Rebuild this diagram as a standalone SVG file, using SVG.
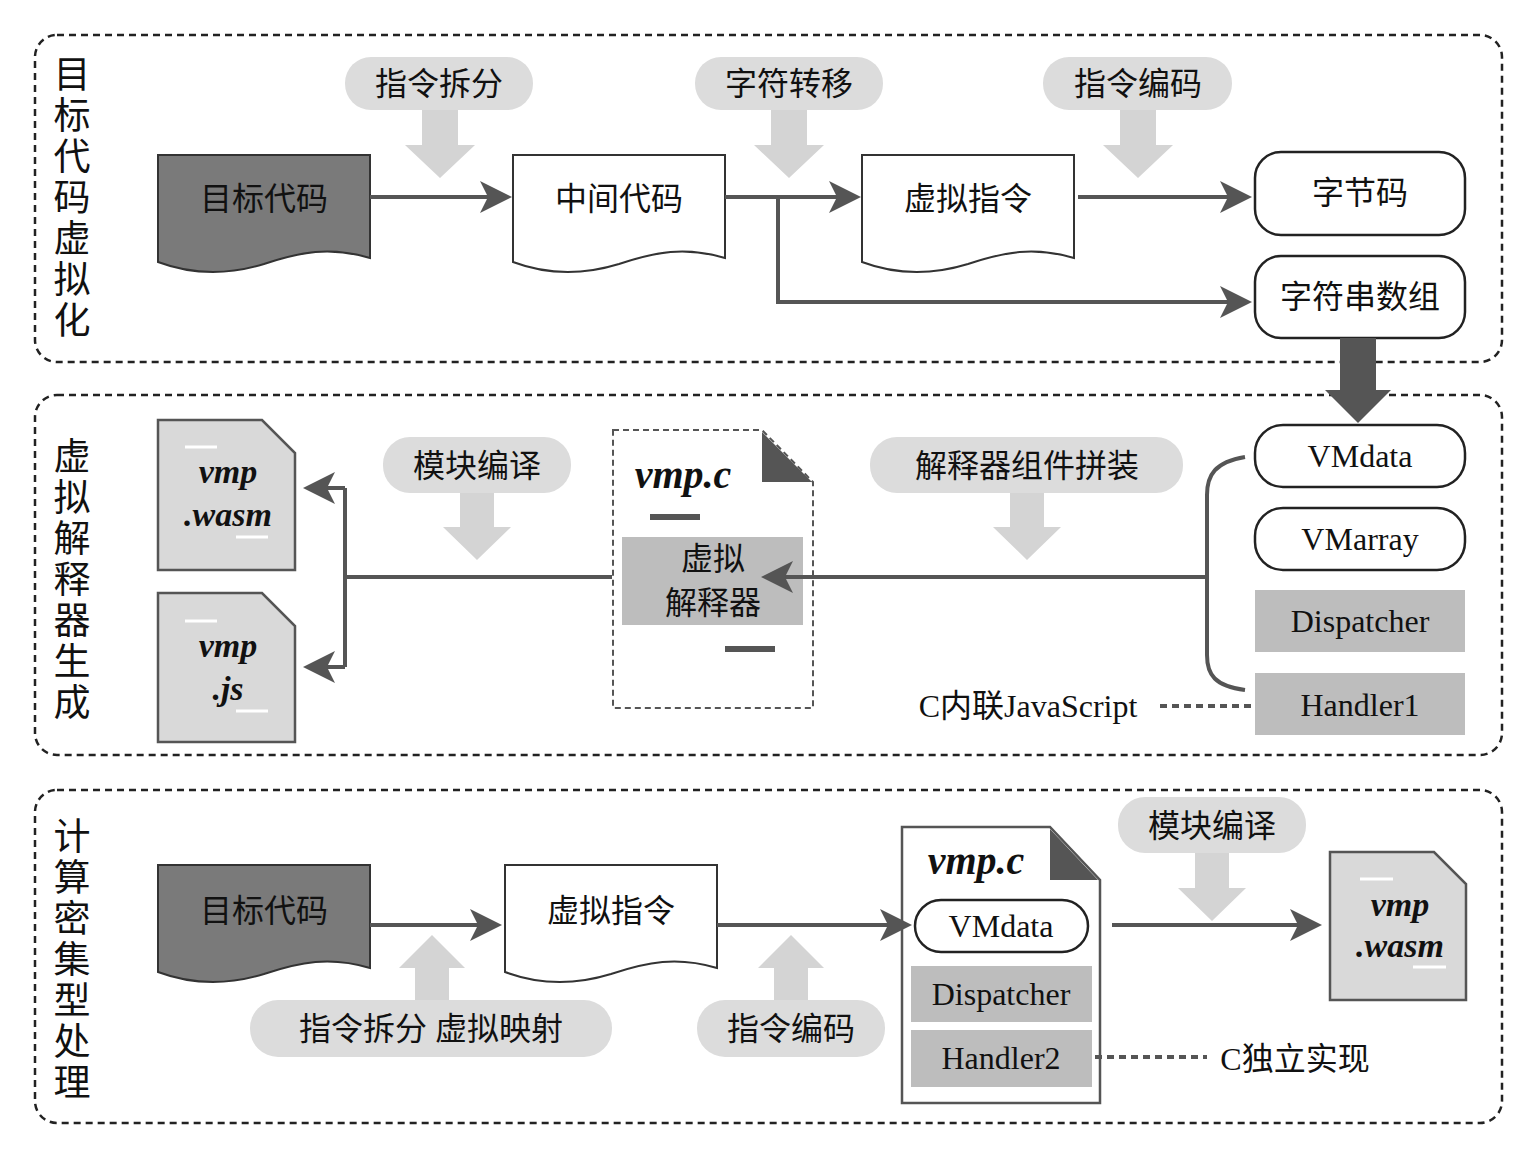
<svg xmlns="http://www.w3.org/2000/svg" width="1524" height="1152" viewBox="0 0 1524 1152">
<defs>
<style>
.panel{fill:none;stroke:#222;stroke-width:2.5;stroke-dasharray:7 5}
.t{font-family:"Liberation Serif","Noto Sans CJK SC",serif;font-size:32px;fill:#111;text-anchor:middle}
.title{font-family:"Liberation Serif","Noto Sans CJK SC",serif;font-size:37px;fill:#111;text-anchor:middle}
.bi{font-family:"Liberation Serif",serif;font-size:34px;font-weight:bold;font-style:italic;fill:#111;text-anchor:middle}
.bc{font-size:40px}
.pill{fill:#dcdcdc}
.big{fill:#d4d4d4}
.doc{fill:#fff;stroke:#333;stroke-width:2}
.dark{fill:#7a7a7a;stroke:#333;stroke-width:2}
.rr{fill:#fff;stroke:#222;stroke-width:2.5}
.blk{fill:#bdbdbd}
.file{fill:#d9d9d9;stroke:#555;stroke-width:2.5}
.wd{stroke:#fff;stroke-width:3}
.ln{fill:none;stroke:#555;stroke-width:4}
</style>
<marker id="ah" markerWidth="8" markerHeight="8" refX="7" refY="4" orient="auto" markerUnits="strokeWidth"><path d="M0,0 L8,4 L0,8 L2,4 Z" fill="#555"/></marker>
</defs>

<rect class="panel" x="35" y="35" width="1467" height="327" rx="22"/>
<rect class="panel" x="35" y="395" width="1467" height="360" rx="22"/>
<rect class="panel" x="35" y="790" width="1467" height="333" rx="22"/>

<g id="title1"><text class="title" x="72" y="88">目</text><text class="title" x="72" y="129">标</text><text class="title" x="72" y="170">代</text><text class="title" x="72" y="211">码</text><text class="title" x="72" y="252">虚</text><text class="title" x="72" y="293">拟</text><text class="title" x="72" y="334">化</text></g>
<g id="title2"><text class="title" x="72" y="470">虚</text><text class="title" x="72" y="511">拟</text><text class="title" x="72" y="552">解</text><text class="title" x="72" y="593">释</text><text class="title" x="72" y="634">器</text><text class="title" x="72" y="675">生</text><text class="title" x="72" y="716">成</text></g>
<g id="title3"><text class="title" x="72" y="850">计</text><text class="title" x="72" y="891">算</text><text class="title" x="72" y="932">密</text><text class="title" x="72" y="973">集</text><text class="title" x="72" y="1014">型</text><text class="title" x="72" y="1055">处</text><text class="title" x="72" y="1096">理</text></g>

<!-- panel 1 -->
<g id="p-split1"><rect class="pill" x="345" y="57" width="188" height="53" rx="26"/><text class="t" x="439" y="95">指令拆分</text><path class="big" d="M422,110 H458 V145 H475 L440,178 L405,145 H422 Z"/></g>
<g id="p-shift"><rect class="pill" x="695" y="57" width="188" height="53" rx="26"/><text class="t" x="789" y="95">字符转移</text><path class="big" d="M771,110 H807 V145 H824 L789,178 L754,145 H771 Z"/></g>
<g id="p-enc1"><rect class="pill" x="1043" y="57" width="189" height="53" rx="26"/><text class="t" x="1138" y="95">指令编码</text><path class="big" d="M1120,110 H1156 V145 H1173 L1138,178 L1103,145 H1120 Z"/></g>

<g id="n-target1"><path class="dark" d="M158,155 H370 V258 C330,246 300,252 264,264 C225,276 190,274 158,262 Z"/><text class="t" x="264" y="210">目标代码</text></g>
<g id="n-mid"><path class="doc" d="M513,155 H725 V258 C685,246 655,252 619,264 C580,276 545,274 513,262 Z"/><text class="t" x="619" y="210">中间代码</text></g>
<g id="n-vins1"><path class="doc" d="M862,155 H1074 V258 C1034,246 1004,252 968,264 C929,276 894,274 862,262 Z"/><text class="t" x="968" y="210">虚拟指令</text></g>
<g id="n-bytecode"><rect class="rr" x="1255" y="152" width="210" height="83" rx="26"/><text class="t" x="1360" y="204">字节码</text></g>
<g id="n-strarr"><rect class="rr" x="1255" y="256" width="210" height="82" rx="26"/><text class="t" x="1360" y="308">字符串数组</text></g>

<!-- panel 2 -->
<g id="p-compile2"><rect class="pill" x="383" y="437" width="188" height="56" rx="27"/><text class="t" x="477" y="477">模块编译</text><path class="big" d="M460,493 H494 V527 H511 L477,560 L443,527 H460 Z"/></g>
<g id="p-assemble"><rect class="pill" x="870" y="437" width="313" height="56" rx="27"/><text class="t" x="1027" y="477">解释器组件拼装</text><path class="big" d="M1010,493 H1044 V527 H1061 L1027,560 L993,527 H1010 Z"/></g>

<g id="n-wasm1"><path class="file" d="M158,420 H262 L295,453 V570 H158 Z"/><line class="wd" x1="185" y1="447" x2="217" y2="447"/><line class="wd" x1="236" y1="537" x2="268" y2="537"/><text class="bi" x="228" y="483">vmp</text><text class="bi" x="228" y="526">.wasm</text></g>
<g id="n-js"><path class="file" d="M158,593 H262 L295,626 V742 H158 Z"/><line class="wd" x1="185" y1="621" x2="217" y2="621"/><line class="wd" x1="236" y1="711" x2="268" y2="711"/><text class="bi" x="228" y="657">vmp</text><text class="bi" x="228" y="700">.js</text></g>

<g id="n-vmpc1"><path d="M613,430 H762 L813,482 V708 H613 Z" fill="#fff" stroke="#555" stroke-width="2" stroke-dasharray="6 4"/><path d="M762,432 L812,482 H762 Z" fill="#555"/><text class="bi bc" x="683" y="488">vmp.c</text><rect x="650" y="514" width="50" height="6" fill="#555"/><rect class="blk" x="622" y="537" width="181" height="88"/><text class="t" x="713" y="570">虚拟</text><text class="t" x="713" y="614">解释器</text><rect x="725" y="646" width="50" height="6" fill="#555"/></g>

<g id="n-vmdata1"><rect class="rr" x="1255" y="425" width="210" height="62" rx="28"/><text class="t" x="1360" y="467">VMdata</text></g>
<g id="n-vmarray"><rect class="rr" x="1255" y="508" width="210" height="62" rx="28"/><text class="t" x="1360" y="550">VMarray</text></g>
<g id="n-disp1"><rect class="blk" x="1255" y="590" width="210" height="62"/><text class="t" x="1360" y="632">Dispatcher</text></g>
<g id="n-handler1"><rect class="blk" x="1255" y="673" width="210" height="62"/><text class="t" x="1360" y="716">Handler1</text></g>
<g id="lbl-js"><text class="t" x="1028" y="717">C内联JavaScript</text></g>

<!-- panel 3 -->
<g id="n-target2"><path class="dark" d="M158,865 H370 V968 C330,956 300,962 264,974 C225,986 190,984 158,972 Z"/><text class="t" x="264" y="922">目标代码</text></g>
<g id="n-vins2"><path class="doc" d="M505,865 H717 V968 C677,956 647,962 611,974 C572,986 537,984 505,972 Z"/><text class="t" x="611" y="922">虚拟指令</text></g>
<g id="p-split2"><rect class="pill" x="250" y="1000" width="362" height="57" rx="28"/><text class="t" x="431" y="1040">指令拆分 虚拟映射</text><path class="big" d="M415,1000 V968 H399 L432,935 L465,968 H449 V1000 Z"/></g>
<g id="p-enc2"><rect class="pill" x="697" y="1000" width="188" height="57" rx="28"/><text class="t" x="791" y="1040">指令编码</text><path class="big" d="M774,1000 V968 H758 L791,935 L824,968 H808 V1000 Z"/></g>

<g id="n-vmpc2"><path d="M902,827 H1050 L1100,880 V1103 H902 Z" fill="#fff" stroke="#555" stroke-width="2.5"/><path d="M1050,829 L1098,880 H1050 Z" fill="#555"/><text class="bi bc" x="976" y="874">vmp.c</text><rect class="rr" x="915" y="900" width="173" height="52" rx="26"/><text class="t" x="1001" y="937">VMdata</text><rect class="blk" x="911" y="966" width="181" height="56"/><text class="t" x="1001" y="1005">Dispatcher</text><rect class="blk" x="911" y="1030" width="181" height="57"/><text class="t" x="1001" y="1069">Handler2</text></g>
<g id="p-compile3"><rect class="pill" x="1118" y="797" width="188" height="56" rx="27"/><text class="t" x="1212" y="837">模块编译</text><path class="big" d="M1195,853 H1229 V888 H1246 L1212,921 L1178,888 H1195 Z"/></g>
<g id="n-wasm2"><path class="file" d="M1330,852 H1434 L1466,884 V1000 H1330 Z"/><line class="wd" x1="1360" y1="879" x2="1393" y2="879"/><line class="wd" x1="1413" y1="967" x2="1446" y2="967"/><text class="bi" x="1400" y="916">vmp</text><text class="bi" x="1400" y="957">.wasm</text></g>
<g id="lbl-c"><text class="t" x="1295" y="1070">C独立实现</text></g>

<g id="connectors">
<line class="ln" x1="370" y1="197" x2="508" y2="197" marker-end="url(#ah)"/>
<line class="ln" x1="725" y1="197" x2="857" y2="197" marker-end="url(#ah)"/>
<polyline class="ln" points="778,197 778,302 1248,302" marker-end="url(#ah)"/>
<line class="ln" x1="1078" y1="197" x2="1248" y2="197" marker-end="url(#ah)"/>
<path d="M1340,338 H1376 V390 H1391 L1358,423 L1325,390 H1340 Z" fill="#555"/>
<line class="ln" x1="1205" y1="577" x2="765" y2="577" marker-end="url(#ah)"/>
<path class="ln" d="M1245,457 C1215,462 1207,475 1207,495 V655 C1207,675 1215,686 1245,690"/>
<line class="ln" x1="612" y1="577" x2="345" y2="577"/>
<polyline class="ln" points="345,488 345,667"/>
<line class="ln" x1="345" y1="488" x2="307" y2="488" marker-end="url(#ah)"/>
<line class="ln" x1="345" y1="667" x2="307" y2="667" marker-end="url(#ah)"/>
<line x1="1160" y1="706" x2="1255" y2="706" stroke="#555" stroke-width="4" stroke-dasharray="7 5"/>
<line class="ln" x1="370" y1="925" x2="498" y2="925" marker-end="url(#ah)"/>
<line class="ln" x1="717" y1="925" x2="908" y2="925" marker-end="url(#ah)"/>
<line class="ln" x1="1112" y1="925" x2="1318" y2="925" marker-end="url(#ah)"/>
<line x1="1095" y1="1057" x2="1207" y2="1057" stroke="#555" stroke-width="4" stroke-dasharray="7 5"/>
</g>
</svg>
